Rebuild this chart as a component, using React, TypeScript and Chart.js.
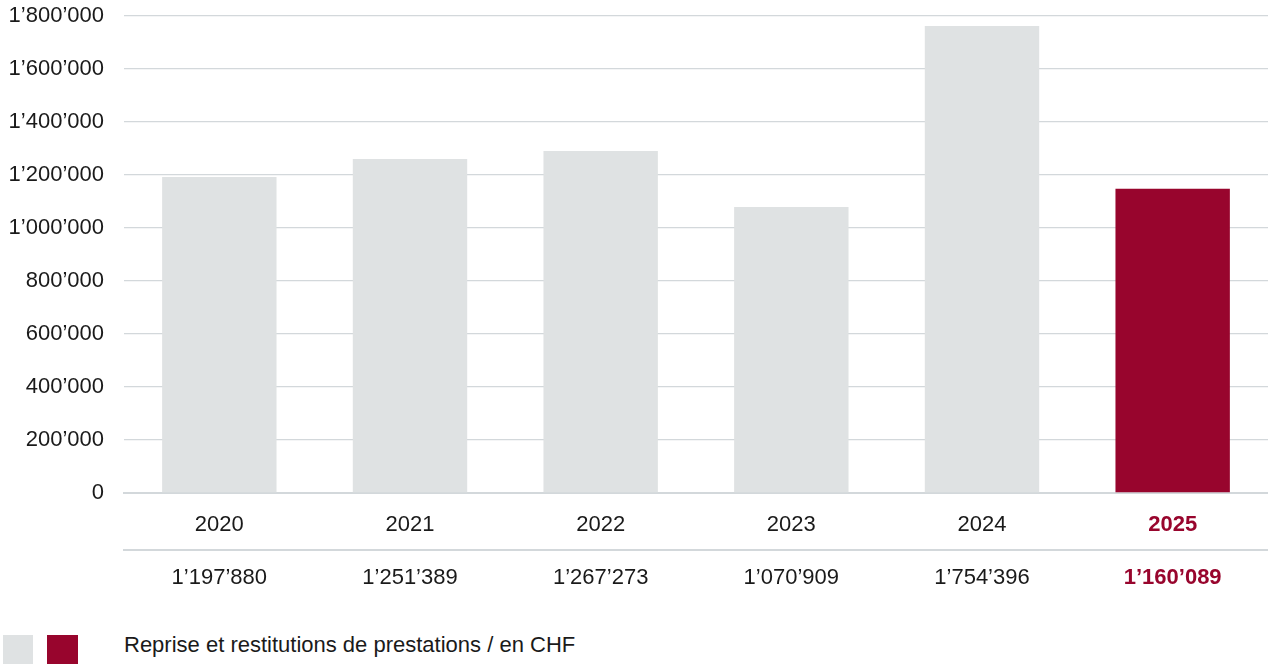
import React, { useEffect, useRef } from "react";
import { Chart, registerables } from "chart.js";

Chart.register(...registerables);

const years = ["2020", "2021", "2022", "2023", "2024", "2025"];
// Bar heights as drawn in the reference
const barHeights = [1192500, 1260000, 1290500, 1079000, 1762000, 1148000];
// Amounts printed under the years
const amountLabels = ["1’197’880", "1’251’389", "1’267’273", "1’070’909", "1’754’396", "1’160’089"];
const yMin = 0;
const yMax = 1800000;
const yStep = 200000;
const highlightIndex = 5;
const legendText = "Reprise et restitutions de prestations / en CHF";

const GREY = "#dfe2e3";
const RED = "#98052d";
const TEXT = "#1a1a1a";
const LINE = "#d3d8db";
const FONT = "'Liberation Sans', Arial, Helvetica, sans-serif";
const FS = 22;

const fmt = (v: number) =>
  String(Math.round(v)).replace(/\B(?=(\d{3})+(?!\d))/g, "’");

export default function App() {
  const ref = useRef<HTMLCanvasElement | null>(null);

  useEffect(() => {
    if (!ref.current) return;
    const tickFont = (ctx: any) => ({
      family: FONT,
      size: FS,
      weight: ctx.index === highlightIndex ? "bold" : "normal",
    });
    const tickColor = (ctx: any) => (ctx.index === highlightIndex ? RED : TEXT);

    const chart = new Chart(ref.current, {
      type: "bar",
      data: {
        labels: years,
        datasets: [
          {
            data: barHeights,
            backgroundColor: years.map((_, i) => (i === highlightIndex ? RED : GREY)),
            borderWidth: 0,
            barPercentage: 0.6,
            categoryPercentage: 1,
          },
        ],
      },
      options: {
        responsive: false,
        animation: false,
        devicePixelRatio: 1,
        layout: { padding: { top: 16, right: 0, left: 0, bottom: 10 } },
        plugins: {
          legend: { display: false },
          tooltip: { enabled: false },
        },
        scales: {
          x: {
            type: "category",
            position: "bottom",
            weight: 0,
            offset: true,
            grid: { display: false, drawTicks: false },
            border: { display: true, color: LINE, width: 2 },
            ticks: { padding: 19, color: tickColor, font: tickFont, maxRotation: 0, autoSkip: false },
            afterFit: (s: any) => {
              s.height = 57;
              s.paddingLeft = 0;
              s.paddingRight = 0;
            },
          },
          x2: {
            type: "category",
            position: "bottom",
            weight: 1,
            labels: amountLabels,
            offset: true,
            grid: { display: false, drawTicks: false },
            border: { display: true, color: LINE, width: 2 },
            ticks: { padding: 15, color: tickColor, font: tickFont, maxRotation: 0, autoSkip: false },
            afterFit: (s: any) => {
              s.height = 60;
              s.paddingLeft = 0;
              s.paddingRight = 0;
            },
          },
          y: {
            min: yMin,
            max: yMax,
            grid: { color: LINE, lineWidth: 1.3, drawTicks: false },
            border: { display: false },
            ticks: {
              stepSize: yStep,
              padding: 20,
              color: TEXT,
              font: { family: FONT, size: FS },
              callback: (v: any) => fmt(Number(v)),
            },
            afterFit: (s: any) => {
              s.width = 124;
              s.paddingTop = 0;
              s.paddingBottom = 0;
            },
          },
        },
      } as any,
    });
    return () => chart.destroy();
  }, []);

  return (
    <div style={{ position: "absolute", left: 0, top: 0, width: 1268, height: 664, overflow: "hidden", background: "#fff" }}>
      <canvas ref={ref} width={1268} height={620} style={{ position: "absolute", left: 0, top: 0, width: 1268, height: 620 }} />
      <div style={{ position: "absolute", left: 3, top: 635, width: 30, height: 30, background: GREY }} />
      <div style={{ position: "absolute", left: 47, top: 635, width: 31, height: 30, background: RED }} />
      <div
        style={{
          position: "absolute",
          left: 124,
          top: 634,
          fontFamily: FONT,
          fontSize: FS,
          lineHeight: "22px",
          color: TEXT,
          whiteSpace: "nowrap",
        }}
      >
        {legendText}
      </div>
    </div>
  );
}
